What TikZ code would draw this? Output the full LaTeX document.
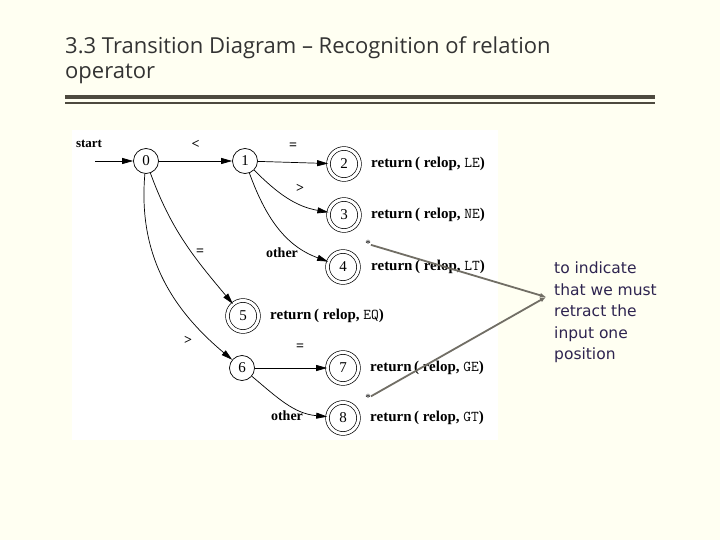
\documentclass[tikz,border=0pt]{standalone}
\usepackage{fontspec}
\setmainfont{Liberation Serif}
\newfontfamily\uifont{Open Sans}
\newfontfamily\notefont{DejaVu Sans}
\usetikzlibrary{arrows.meta}
\definecolor{bgc}{HTML}{FFFFF2}
\definecolor{rulec}{HTML}{4D4A3F}
\definecolor{notec}{HTML}{2E2450}
\begin{document}
\begin{tikzpicture}[x=1pt,y=-1pt,
  st/.style={circle,draw,line width=0.7pt,minimum size=25pt,inner sep=0pt,font=\fontsize{15}{15}\selectfont},
  acc/.style={st,double,double distance=3pt,minimum size=31pt},
  tr/.style={-{Triangle[length=11pt,width=6pt]},line width=0.7pt},
  lbl/.style={font=\bfseries\fontsize{14}{14}\selectfont},
  ret/.style={anchor=west,font=\bfseries\fontsize{15}{15}\selectfont,inner sep=0pt},
  ptr/.style={draw=rulec!80,line width=1.8pt,-{Latex[length=6pt,width=5pt]}}]
\fill[bgc] (0,0) rectangle (720,540);
\useasboundingbox (0,0) rectangle (720,540);
\node[anchor=north west,inner sep=0pt,align=left,font=\uifont\fontsize{22}{25}\selectfont,text=black!80] (title) at (65,36) {3.3 Transition Diagram – Recognition of relation\\operator};
\fill[rulec] (65,95) rectangle (655,99);
\fill[rulec] (65,102) rectangle (655,104);
\fill[white] (72,130) rectangle (498,440);
\node[st] (s0) at (146,161) {0};
\node[st] (s1) at (245,161) {1};
\node[acc] (s2) at (344,164) {2};
\node[acc] (s3) at (344,215) {3};
\node[acc] (s4) at (343,267) {4};
\node[acc] (s5) at (243,316) {5};
\node[st] (s6) at (242,368) {6};
\node[acc] (s7) at (343,368) {7};
\node[acc] (s8) at (343,418) {8};
\coordinate (in) at (95,161);
\node[font=\bfseries\fontsize{13}{13}\selectfont] (lstart) at (89,144) {start};
\draw[tr] (in) -- (s0);
\draw[tr] (s0) -- node[lbl,above=9pt]{<} (s1);
\draw[tr] (s1) -- node[lbl,above=9pt]{=} (s2);
\draw[tr] (s1) to[out=-45,in=170] (s3);
\draw[tr] (s1) to[out=-70,in=160] (s4);
\draw[tr] (s0) to[out=-70,in=130] (s5);
\draw[tr] (s0) to[out=-95,in=140] (s6);
\draw[tr] (s6) -- (s7);
\draw[tr] (s6) to[out=-40,in=175] (s8);
\node[lbl] (l3) at (300,188) {>};
\node[lbl] (l4) at (282,253) {other};
\node[lbl] (l5) at (200,252) {=};
\node[lbl] (l6) at (188,340) {>};
\node[lbl] (l7) at (300,347) {=};
\node[lbl] (l8) at (287,416) {other};
\node[ret] (r2) at (371,164) {return\,( relop, \texttt{\mdseries LE})};
\node[ret] (r3) at (371,215) {return\,( relop, \texttt{\mdseries NE})};
\node[ret] (r4) at (371,267) {return\,( relop, \texttt{\mdseries LT})};
\node[ret] (r5) at (270,316) {return\,( relop, \texttt{\mdseries EQ})};
\node[ret] (r7) at (370,368) {return\,( relop, \texttt{\mdseries GE})};
\node[ret] (r8) at (370,418) {return\,( relop, \texttt{\mdseries GT})};
\node[font=\fontsize{11}{11}\selectfont,inner sep=0pt] (a4) at (368,244) {*};
\node[font=\fontsize{11}{11}\selectfont,inner sep=0pt] (a8) at (368,398) {*};
\coordinate (tip) at (546,297);
\draw[ptr] (a4) -- (tip);
\draw[ptr] (a8) -- (tip);
\node[anchor=north west,inner sep=0pt,align=left,text=notec,font=\notefont\fontsize{15.5}{21.5}\selectfont] (note) at (554,262) {to indicate\\that we must\\retract the\\input one\\position};
\end{tikzpicture}
\end{document}
